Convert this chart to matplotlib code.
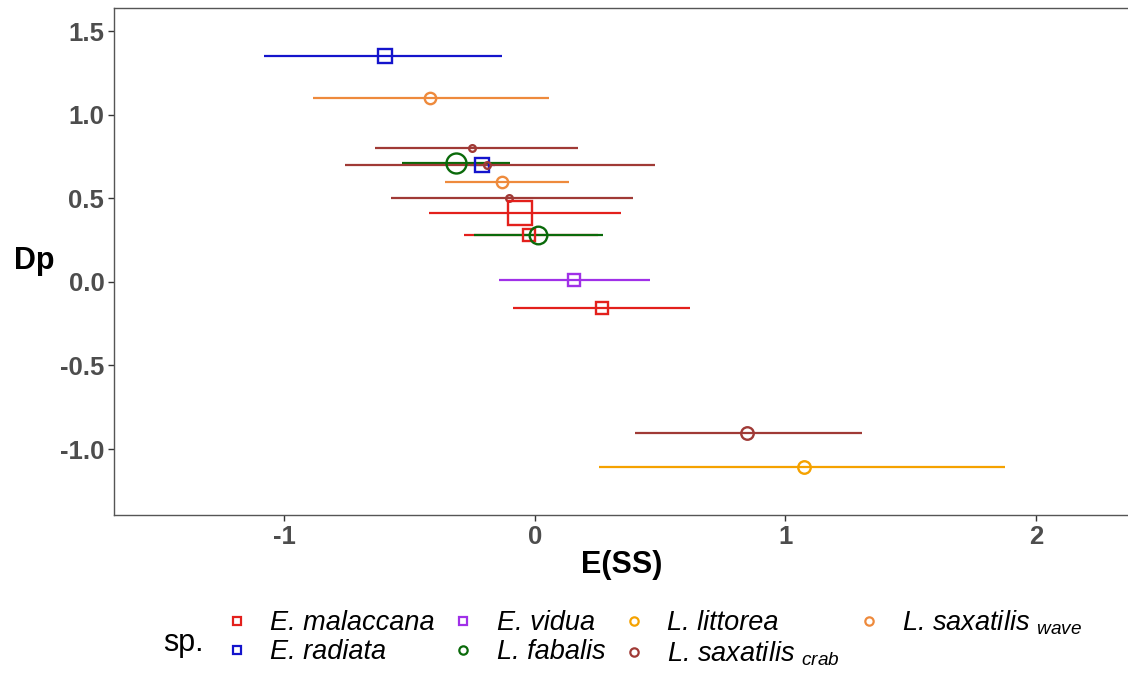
import numpy as np
import matplotlib
matplotlib.use("Agg")
import matplotlib.pyplot as plt
from matplotlib.lines import Line2D

plt.rcParams['font.family'] = ['Liberation Sans', 'DejaVu Sans']
plt.rcParams['mathtext.fontset'] = 'custom'
plt.rcParams['mathtext.rm'] = 'Liberation Sans'
plt.rcParams['mathtext.it'] = 'Liberation Sans:italic'

# species and their colours / markers
species = ["E. malaccana", "E. radiata", "E. vidua", "L. fabalis",
           "L. littorea", "L. saxatilis crab", "L. saxatilis wave"]
labels = ["E. malaccana", "E. radiata", "E. vidua", "L. fabalis",
          "L. littorea", r"L. saxatilis $_{crab}$", r"L. saxatilis $_{wave}$"]
colors = ["#E3201C", "#1414CC", "#A030E8", "#0A6A0A",
          "#F5A200", "#A03A36", "#EE8A3C"]
markers = ["s", "s", "s", "o", "o", "o", "o"]

# one row per estimate
sp = ["E. radiata", "L. saxatilis wave", "L. saxatilis crab", "E. radiata",
      "L. fabalis", "L. saxatilis crab", "L. saxatilis wave", "L. saxatilis crab",
      "E. malaccana", "E. malaccana", "L. fabalis", "E. vidua",
      "E. malaccana", "L. saxatilis crab", "L. littorea"]
ess = [-0.60, -0.42, -0.25, -0.21, -0.315, -0.19, -0.133, -0.105,
       -0.059, -0.023, 0.013, 0.157, 0.267, 0.848, 1.075]
ess_lo = [-1.08, -0.885, -0.64, -0.26, -0.53, -0.76, -0.36, -0.573,
          -0.423, -0.283, -0.245, -0.143, -0.089, 0.40, 0.257]
ess_hi = [-0.13, 0.055, 0.17, -0.16, -0.10, 0.48, 0.135, 0.393,
          0.344, 0.25, 0.273, 0.461, 0.617, 1.307, 1.875]
dp = [1.355, 1.10, 0.80, 0.70, 0.71, 0.70, 0.60, 0.50,
      0.415, 0.28, 0.28, 0.01, -0.155, -0.905, -1.105]
msize = [9.6, 8.2, 4.8, 9.6, 14.4, 4.8, 8.2, 4.8,
         16.8, 8.9, 12.7, 8.4, 8.4, 9.0, 9.0]

col = dict(zip(species, colors))
mk = dict(zip(species, markers))

fig = plt.figure(figsize=(11.28, 6.75), dpi=100)
ax = fig.add_axes([114/1128, 1-515/675, 1.002-114/1128, (515-8)/675])

for i in range(len(sp)):
    ax.hlines(dp[i], ess_lo[i], ess_hi[i], color=col[sp[i]], lw=1.6, zorder=2)
for i in range(len(sp)):
    ax.plot(ess[i], dp[i], marker=mk[sp[i]], ms=msize[i], mfc='none',
            mec=col[sp[i]], mew=1.7, ls='none', zorder=3)

ax.set_xlim(-1.68, 2.376)
ax.set_ylim(-1.395, 1.64)
ax.set_xticks([-1, 0, 1, 2])
ax.set_xticklabels(["-1", "0", "1", "2"])
ax.set_yticks([-1.0, -0.5, 0.0, 0.5, 1.0, 1.5])
ax.set_yticklabels(["-1.0", "-0.5", "0.0", "0.5", "1.0", "1.5"])
ax.tick_params(length=4, width=1, color='#333333', labelcolor='#4D4D4D',
               labelsize=18.5, pad=3)
for lab in ax.get_xticklabels() + ax.get_yticklabels():
    lab.set_fontweight('bold')
for s in ax.spines.values():
    s.set_color('#555555')
    s.set_linewidth(1.0)
ax.spines['right'].set_visible(False)

ax.set_xlabel("E(SS)", fontsize=22, fontweight='bold')
ax.xaxis.set_label_coords(0.5, -0.070)
ax.set_ylabel("Dp", fontsize=22, fontweight='bold', rotation=0, va='center', ha='center')
ax.yaxis.set_label_coords(-0.078, 0.5)

handles = [Line2D([], [], marker=m, ls='none', mfc='none', mec=c, ms=6, mew=1.6)
           for m, c in zip(markers, colors)]
fig.legend(handles, labels, ncol=4, loc='center left',
           bbox_to_anchor=(226/1128, 1-638/675), frameon=False,
           borderpad=0, borderaxespad=0, handlelength=0.8, handletextpad=0.82,
           columnspacing=0.67, labelspacing=0.1,
           prop={'size': 19.5, 'style': 'italic'})
fig.text(163/1128, 1-643/675, "sp.", fontsize=22, va='center', ha='left')

fig.savefig("out.png", dpi=100)
